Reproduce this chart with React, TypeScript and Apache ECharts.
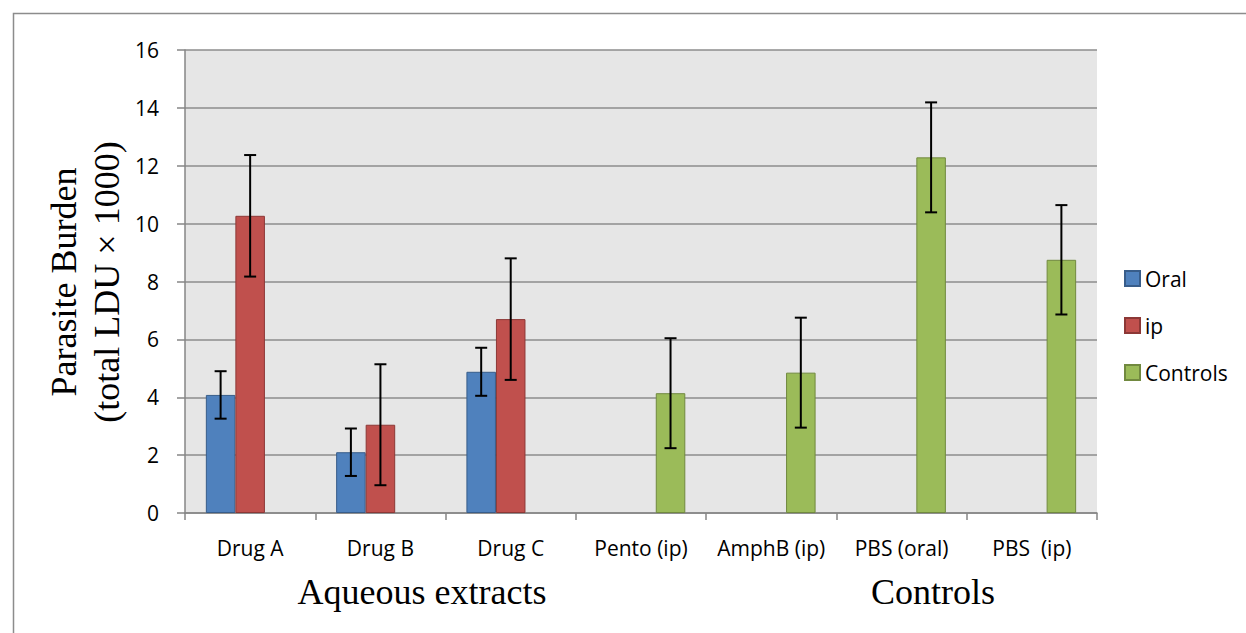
import React, { useEffect, useRef } from "react";
import * as echarts from "echarts";

const categories = ["Drug A", "Drug B", "Drug C", "Pento (ip)", "AmphB (ip)", "PBS (oral)", "PBS  (ip)"];
const oralValues = [4.08, 2.1, 4.88, null, null, null, null];
const oralErrors = [0.82, 0.82, 0.83, null, null, null, null];
const ipValues = [10.27, 3.05, 6.7, null, null, null, null];
const ipErrors = [2.1, 2.09, 2.1, null, null, null, null];
const controlValues = [null, null, null, 4.14, 4.85, 12.29, 8.75];
const controlErrors = [null, null, null, 1.9, 1.9, 1.9, 1.89];
const yTicks = { min: 0, max: 16, interval: 2 };
const groupLabels = ["Aqueous extracts", "Controls"];

const BAR_GAP_RATIO = 0.32;

function errorData(vals: (number | null)[], errs: (number | null)[]) {
  const out: number[][] = [];
  vals.forEach((v, i) => {
    const e = errs[i];
    if (v != null && e != null) out.push([i, v - e, v + e]);
  });
  return out;
}

function makeErrorSeries(name: string, slot: number, data: number[][]) {
  return {
    type: "custom",
    name: name + " err",
    z: 10,
    silent: true,
    encode: { x: 0, y: [1, 2] },
    data,
    renderItem: (params: any, api: any) => {
      const idx = api.value(0);
      const lo = api.value(1);
      const hi = api.value(2);
      const pLo = api.coord([idx, lo]);
      const pHi = api.coord([idx, hi]);
      const catW = api.size([1, 0])[0];
      const barW = (catW * (1 - BAR_GAP_RATIO)) / 3;
      const cx = pLo[0] + (slot - 1) * barW;
      const cap = 6;
      const style = { stroke: "#000", lineWidth: 2 };
      return {
        type: "group",
        children: [
          { type: "line", shape: { x1: cx, y1: pLo[1], x2: cx, y2: pHi[1] }, style },
          { type: "line", shape: { x1: cx - cap, y1: pHi[1], x2: cx + cap, y2: pHi[1] }, style },
          { type: "line", shape: { x1: cx - cap, y1: pLo[1], x2: cx + cap, y2: pLo[1] }, style },
        ],
      };
    },
  };
}

export default function App() {
  const ref = useRef<HTMLDivElement>(null);
  useEffect(() => {
    document.body.style.margin = "0";
    if (!ref.current) return;
    const chart = echarts.init(ref.current, null, { renderer: "svg" });
    const sans = "'Open Sans', sans-serif";
    const serif = "'Liberation Serif', 'Times New Roman', serif";
    const option: any = {
      animation: false,
      backgroundColor: "#ffffff",
      grid: {
        left: 185,
        right: 149,
        top: 50,
        bottom: 120,
        show: true,
        backgroundColor: "#e6e6e6",
        borderWidth: 0,
      },
      legend: {
        orient: "vertical",
        left: 1119,
        top: 263,
        itemWidth: 15,
        itemHeight: 15,
        itemGap: 26,
        icon: "rect",
        data: ["Oral", "ip", "Controls"],
        textStyle: { fontFamily: sans, fontSize: 21, color: "#000", lineHeight: 21 },
      },
      xAxis: {
        type: "category",
        data: categories,
        axisLine: { show: true, lineStyle: { color: "#868686", width: 1.5 } },
        axisTick: { show: true, length: 7, interval: 0, lineStyle: { color: "#868686", width: 1.5 } },
        axisLabel: { interval: 0, margin: 24, fontFamily: sans, fontSize: 21, color: "#000" },
        splitLine: { show: false },
      },
      yAxis: {
        type: "value",
        min: yTicks.min,
        max: yTicks.max,
        interval: yTicks.interval,
        axisLine: { show: true, lineStyle: { color: "#868686", width: 1.5 } },
        axisTick: { show: true, length: 8, lineStyle: { color: "#868686", width: 1.5 } },
        axisLabel: { margin: 26, fontFamily: sans, fontSize: 21, color: "#000" },
        splitLine: { show: true, lineStyle: { color: "#8c8c8c", width: 1.5 } },
      },
      series: [
        {
          type: "bar",
          name: "Oral",
          data: oralValues,
          barGap: "0%",
          barCategoryGap: "32%",
          itemStyle: { color: "#4f81bd", borderColor: "#385d8a", borderWidth: 1 },
        },
        {
          type: "bar",
          name: "ip",
          data: ipValues,
          barGap: "0%",
          barCategoryGap: "32%",
          itemStyle: { color: "#c0504d", borderColor: "#8c3836", borderWidth: 1 },
        },
        {
          type: "bar",
          name: "Controls",
          data: controlValues,
          barGap: "0%",
          barCategoryGap: "32%",
          itemStyle: { color: "#9bbb59", borderColor: "#71893f", borderWidth: 1 },
        },
        makeErrorSeries("Oral", 0, errorData(oralValues, oralErrors)),
        makeErrorSeries("ip", 1, errorData(ipValues, ipErrors)),
        makeErrorSeries("Controls", 2, errorData(controlValues, controlErrors)),
      ],
      graphic: [
        {
          type: "rect",
          left: 11,
          top: 11,
          shape: { width: 1300, height: 700 },
          style: { fill: "none", stroke: "#8c8c8c", lineWidth: 1.5 },
          silent: true,
          z: -1,
        },
        {
          type: "text",
          x: 85,
          y: 282,
          rotation: Math.PI / 2,
          style: {
            text: "Parasite Burden\n(total LDU × 1000)",
            fontFamily: serif,
            fontSize: 36,
            lineHeight: 43,
            fill: "#000",
            align: "center",
            verticalAlign: "middle",
          },
        },
        {
          type: "text",
          x: 422,
          y: 592,
          style: {
            text: groupLabels[0],
            fontFamily: serif,
            fontSize: 36,
            fill: "#000",
            align: "center",
            verticalAlign: "middle",
          },
        },
        {
          type: "text",
          x: 933,
          y: 592,
          style: {
            text: groupLabels[1],
            fontFamily: serif,
            fontSize: 36,
            fill: "#000",
            align: "center",
            verticalAlign: "middle",
          },
        },
      ],
    };
    chart.setOption(option);
    return () => chart.dispose();
  }, []);
  return <div ref={ref} style={{ width: 1246, height: 633 }} />;
}
